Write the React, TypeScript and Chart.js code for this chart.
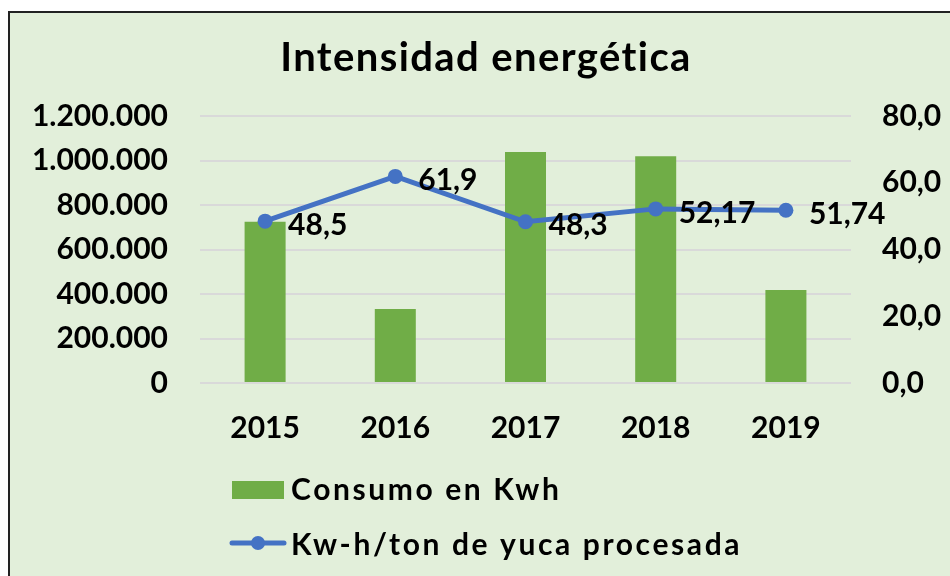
import React, { useEffect, useRef } from "react";
import { Chart, registerables } from "chart.js";

Chart.register(...registerables);

const categories = ["2015", "2016", "2017", "2018", "2019"];
const consumoKwh = [725000, 333000, 1038000, 1019000, 418000];
const kwhPorTon = [48.5, 61.9, 48.3, 52.17, 51.74];
const seriesNames = ["Consumo en Kwh", "Kw-h/ton de yuca procesada"];
const chartTitle = "Intensidad energética";

const GREEN = "#70AD47";
const BLUE = "#4472C4";
const BG = "#E2EFDA";
const FONT = "Lato, 'Open Sans', sans-serif";

const fmtThousands = (v: number) =>
  Math.round(v).toString().replace(/\B(?=(\d{3})+(?!\d))/g, ".");
const fmtComma = (v: number) => String(v).replace(".", ",");

const labelPlugin = {
  id: "lineLabels",
  afterDatasetsDraw(chart: any) {
    const ctx = chart.ctx;
    const meta = chart.getDatasetMeta(1);
    ctx.save();
    ctx.font = `bold 30px ${FONT}`;
    ctx.fillStyle = "#000";
    ctx.textAlign = "left";
    ctx.textBaseline = "middle";
    meta.data.forEach((pt: any, i: number) => {
      ctx.fillText(fmtComma(kwhPorTon[i]), pt.x + 23, pt.y + 4);
    });
    ctx.restore();
  },
};

const titlePlugin = {
  id: "customTitle",
  afterDraw(chart: any) {
    const ctx = chart.ctx;
    ctx.save();
    ctx.font = `bold 40px ${FONT}`;
    (ctx as any).letterSpacing = "1.4px";
    ctx.fillStyle = "#000";
    ctx.textAlign = "center";
    ctx.textBaseline = "middle";
    ctx.fillText(chartTitle, 486, 58);
    ctx.restore();
  },
};

const legendPlugin = {
  id: "customLegend",
  afterDraw(chart: any) {
    const ctx = chart.ctx;
    const a = chart.chartArea;
    const x0 = a.left + 30;
    ctx.save();
    ctx.font = `bold 30px ${FONT}`;
    (ctx as any).letterSpacing = "2.6px";
    ctx.textAlign = "left";
    ctx.textBaseline = "middle";
    // bar item
    const y1 = a.bottom + 107;
    ctx.fillStyle = GREEN;
    ctx.fillRect(x0 + 2, y1 - 9, 52, 18);
    ctx.fillStyle = "#000";
    ctx.fillText(seriesNames[0], x0 + 61, y1);
    // line item
    const y2 = a.bottom + 160;
    ctx.strokeStyle = BLUE;
    ctx.lineWidth = 5;
    ctx.lineCap = "round";
    ctx.beginPath();
    ctx.moveTo(x0 + 2, y2);
    ctx.lineTo(x0 + 54, y2);
    ctx.stroke();
    ctx.fillStyle = BLUE;
    ctx.beginPath();
    ctx.arc(x0 + 28, y2, 7, 0, Math.PI * 2);
    ctx.fill();
    ctx.fillStyle = "#000";
    ctx.fillText(seriesNames[1], x0 + 61, y2 + 2);
    ctx.restore();
  },
};

export default function App() {
  const ref = useRef<HTMLCanvasElement>(null);
  useEffect(() => {
    if (!ref.current) return;
    const chart = new Chart(ref.current, {
      type: "bar",
      data: {
        labels: categories,
        datasets: [
          {
            type: "bar",
            label: seriesNames[0],
            data: consumoKwh,
            backgroundColor: GREEN,
            yAxisID: "y",
            order: 1,
            barPercentage: 0.315,
            categoryPercentage: 1,
          },
          {
            type: "line",
            label: seriesNames[1],
            data: kwhPorTon,
            borderColor: BLUE,
            backgroundColor: BLUE,
            borderWidth: 5,
            pointRadius: 7.5,
            pointBackgroundColor: BLUE,
            pointBorderWidth: 0,
            yAxisID: "y1",
            order: 0,
            tension: 0,
          },
        ] as any,
      },
      options: {
        responsive: false,
        animation: false,
        layout: { padding: { left: 21, right: 0, top: 116, bottom: 133 } },
        plugins: {
          legend: { display: false },
          tooltip: { enabled: false },
          title: { display: false },
        },
        scales: {
          x: {
            grid: { display: false },
            border: { display: false },
            ticks: {
              color: "#000",
              font: { family: FONT, size: 30, weight: "bold" },
              padding: 19,
            },
            afterFit: (s: any) => {
              s.height = 60;
            },
          },
          y: {
            position: "left",
            min: 0,
            max: 1200000,
            grid: { color: "#D9D9D9", lineWidth: 2, drawTicks: false },
            border: { display: false },
            ticks: {
              stepSize: 200000,
              color: "#000",
              font: { family: FONT, size: 30, weight: "bold" },
              padding: 32,
              callback: (v: any) => fmtThousands(Number(v)),
            },
            afterFit: (s: any) => {
              s.width = 179;
            },
          },
          y1: {
            position: "right",
            min: 0,
            max: 80,
            grid: { display: false, drawTicks: false },
            border: { display: false },
            ticks: {
              stepSize: 20,
              color: "#000",
              font: { family: FONT, size: 30, weight: "bold" },
              padding: 31,
              callback: (v: any) => Number(v).toFixed(1).replace(".", ","),
            },
            afterFit: (s: any) => {
              s.width = 99;
            },
          },
        },
      } as any,
      plugins: [labelPlugin, titlePlugin, legendPlugin],
    });
    return () => chart.destroy();
  }, []);

  return (
    <div
      style={{
        position: "fixed",
        left: 0,
        top: 0,
        width: 950,
        height: 576,
        overflow: "hidden",
        background: "#fff",
      }}
    >
      <div
        style={{
          position: "absolute",
          left: 8,
          top: 11,
          width: 1000,
          height: 700,
          background: BG,
          border: "2px solid #222",
        }}
      />
      <canvas
        ref={ref}
        width={950}
        height={576}
        style={{ position: "absolute", left: 0, top: 0, width: 950, height: 576 }}
      />
    </div>
  );
}
